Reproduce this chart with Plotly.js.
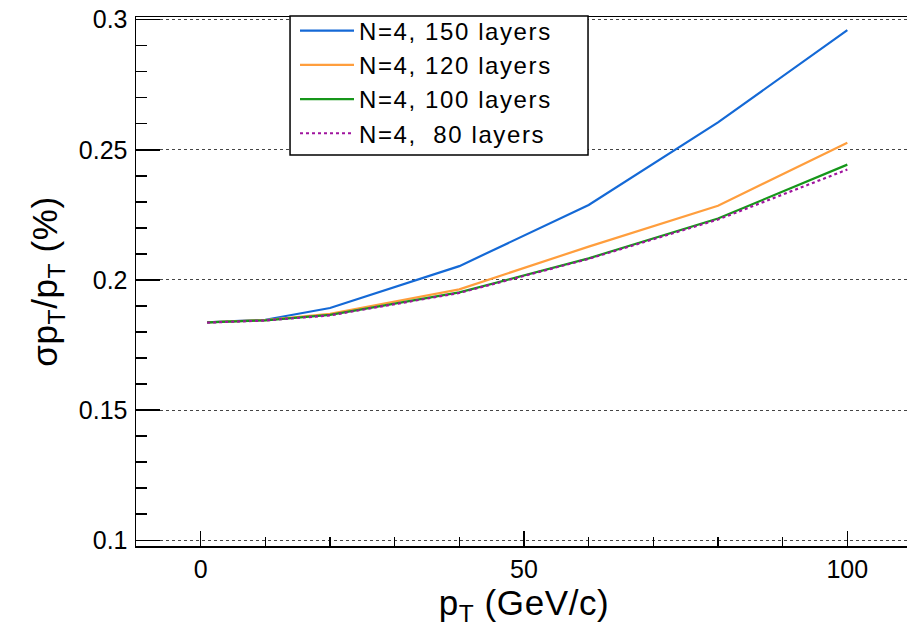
<!DOCTYPE html>
<html>
<head>
<meta charset="utf-8">
<script src="https://cdn.plot.ly/plotly-3.0.1.min.js"></script>
<style>
html, body { margin: 0; padding: 0; overflow: hidden; background: #fff; }
#chart { width: 920px; height: 632px; }
.legendtext { letter-spacing: 1.6px; }
.xtitle, .ytitle { letter-spacing: 0.6px; }
</style>
</head>
<body>
<div id="chart"></div>
<script>
// Data
const pt = [1, 10, 20, 40, 60, 80, 100];
const layers150 = [0.1837, 0.1847, 0.1892, 0.2053, 0.2288, 0.2605, 0.2960];
const layers120 = [0.1837, 0.1846, 0.1870, 0.1964, 0.2128, 0.2285, 0.2527];
const layers100 = [0.1837, 0.1845, 0.1866, 0.1952, 0.2083, 0.2236, 0.2443];
const layers80  = [0.1836, 0.1844, 0.1864, 0.1950, 0.2081, 0.2232, 0.2424];
const seriesNames = ["N=4, 150 layers", "N=4, 120 layers", "N=4, 100 layers", "N=4,\u00a0 80 layers"];
const yTickVals = [0.1, 0.15, 0.2, 0.25, 0.3];
const yTickText = ["0.1", "0.15", "0.2", "0.25", "0.3"];
const xTickVals = [0, 50, 100];

const traces = [
  { x: pt, y: layers150, name: seriesNames[0], mode: "lines", line: { color: "#1469d6", width: 2.2 } },
  { x: pt, y: layers120, name: seriesNames[1], mode: "lines", line: { color: "#ff9e3d", width: 2.2 } },
  { x: pt, y: layers100, name: seriesNames[2], mode: "lines", line: { color: "#16961a", width: 2.2 } },
  { x: pt, y: layers80,  name: seriesNames[3], mode: "lines", line: { color: "#a0149e", width: 2.2, dash: "dot" } }
];

const font = "Liberation Sans, Arial, Helvetica, sans-serif";

const layout = {
  width: 920,
  height: 632,
  margin: { l: 136, r: 8, t: 17, b: 86 },
  paper_bgcolor: "#fff",
  plot_bgcolor: "#fff",
  font: { family: font, color: "#000", size: 24 },
  showlegend: true,
  legend: {
    x: 0.2049, y: 1.016, xanchor: "left", yanchor: "top",
    bgcolor: "rgba(0,0,0,0)", borderwidth: 0,
    font: { family: font, size: 24, color: "#000" },
    itemwidth: 54,
    tracegroupgap: 0
  },
  shapes: [
    { type: "rect", xref: "paper", yref: "paper", x0: 0.1985, x1: 0.5825, y0: 0.739, y1: 1.002,
      fillcolor: "#fff", line: { color: "#000", width: 1.5 }, layer: "above" }
  ],
  xaxis: {
    range: [-10, 110],
    tickmode: "array", tickvals: xTickVals,
    ticks: "inside", ticklen: 15, tickwidth: 1.5, tickcolor: "#000",
    minor: { dtick: 10, tick0: 0, ticks: "inside", ticklen: 9, tickwidth: 1.5, tickcolor: "#000", showgrid: false },
    showgrid: false, zeroline: false,
    showline: true, linecolor: "#000", linewidth: 1.5, mirror: true,
    tickfont: { size: 25 },
    title: { text: "p<sub>T</sub> (GeV/c)", font: { size: 35 }, standoff: 8 }
  },
  yaxis: {
    range: [0.0978, 0.301],
    tickmode: "array", tickvals: yTickVals, ticktext: yTickText,
    ticks: "inside", ticklen: 24, tickwidth: 1.5, tickcolor: "#000",
    minor: { dtick: 0.01, tick0: 0.1, ticks: "inside", ticklen: 11, tickwidth: 1.5, tickcolor: "#000", showgrid: false },
    showgrid: true, gridcolor: "#444", gridwidth: 1, griddash: "dot",
    zeroline: false,
    showline: true, linecolor: "#000", linewidth: 1.5, mirror: true,
    tickfont: { size: 25 },
    ticklabelstandoff: 2,
    title: { text: "σp<sub>T</sub>/p<sub>T</sub> (%)", font: { size: 35 }, standoff: 10 }
  }
};

Plotly.newPlot("chart", traces, layout, { displayModeBar: false, staticPlot: true });
</script>
</body>
</html>
